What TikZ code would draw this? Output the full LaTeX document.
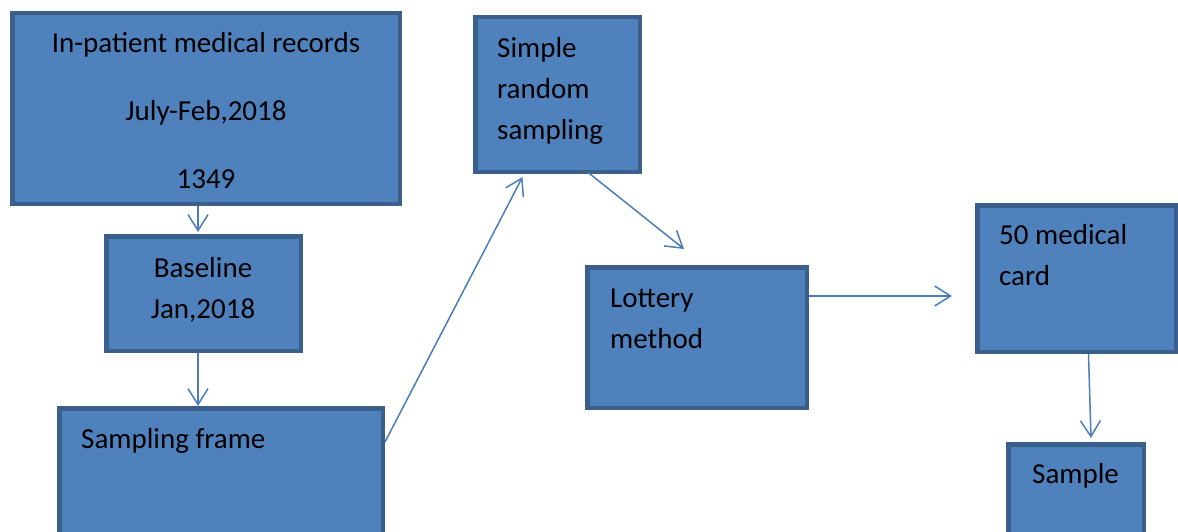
\documentclass[tikz,border=0pt]{standalone}
\usepackage{fontspec}
\setmainfont{Carlito}
\usetikzlibrary{arrows.meta}
\definecolor{boxfill}{HTML}{4F81BD}
\definecolor{boxline}{HTML}{3A5F8B}
\definecolor{arrowline}{HTML}{4A7EBB}
\begin{document}
\begin{tikzpicture}[x=1pt,y=-1pt,
  stagebox/.style={draw=boxline, fill=boxfill, line width=4.5pt, rectangle,
    inner sep=0pt, anchor=north west},
  boxtext/.style={font=\fontsize{29}{41}\selectfont, inner sep=0pt, text=black},
  flow/.style={draw=arrowline, line width=1.5pt,
    -{Straight Barb[length=16pt,width=20pt]}}]
\useasboundingbox (0,0) rectangle (1178,532);
\clip (0,0) rectangle (1178,532);

% stages
\node[stagebox, minimum width=387.5pt, minimum height=190.5pt] (records) at (10,11) {};
\node[stagebox, minimum width=194.5pt, minimum height=114.5pt] (baseline) at (104,234) {};
\node[stagebox, minimum width=323.5pt, minimum height=200pt] (frame) at (57,406) {};
\node[stagebox, minimum width=164.5pt, minimum height=154.5pt] (srs) at (473,15) {};
\node[stagebox, minimum width=219.5pt, minimum height=140.5pt] (lottery) at (585,265) {};
\node[stagebox, minimum width=198.5pt, minimum height=146.5pt] (cards) at (975,203) {};
\node[stagebox, minimum width=135.5pt, minimum height=200pt] (sample) at (1006,442) {};

% labels (multi-line labels are placed by the baseline of their last line)
\node[boxtext, anchor=base, align=center] (recordsT) at (206,188)
  {In-patient medical records\\[26.5pt]July-Feb,2018\\[26.5pt]1349};
\node[boxtext, anchor=base, align=center] (baselineT) at (203,318) {Baseline\\Jan,2018};
\node[boxtext, anchor=base west] (frameT) at (81,448) {Sampling frame};
\node[boxtext, anchor=base west, align=left] (srsT) at (497,140) {Simple\\random\\sampling};
\node[boxtext, anchor=base west, align=left] (lotteryT) at (610,348) {Lottery\\method};
\node[boxtext, anchor=base west, align=left] (cardsT) at (999,285) {50 medical\\card};
\node[boxtext, anchor=base west] (sampleT) at (1032,483) {Sample};

% connectors
\coordinate (lotteryOut) at ([yshift=41.5pt]lottery.east);
\draw[flow] ([xshift=-5.5pt]baseline.north |- records.south) -- ([xshift=-5.5pt,yshift=2pt]baseline.north);
\draw[flow] ([xshift=-5.5pt]baseline.south) -- ([xshift=-5.5pt]baseline.south |- frame.north);
\draw[flow] ([yshift=-36pt]frame.north east) -- ([xshift=-35pt,yshift=-3pt]srs.south);
\draw[flow] ([xshift=30pt,yshift=2pt]srs.south) -- ([xshift=-13pt,yshift=16pt]lottery.north);
\draw[flow] (lotteryOut) -- ([xshift=-23pt]cards.west |- lotteryOut);
\draw[flow] ([xshift=12pt]cards.south) -- ([xshift=15pt,yshift=4pt]sample.north);
\end{tikzpicture}
\end{document}
